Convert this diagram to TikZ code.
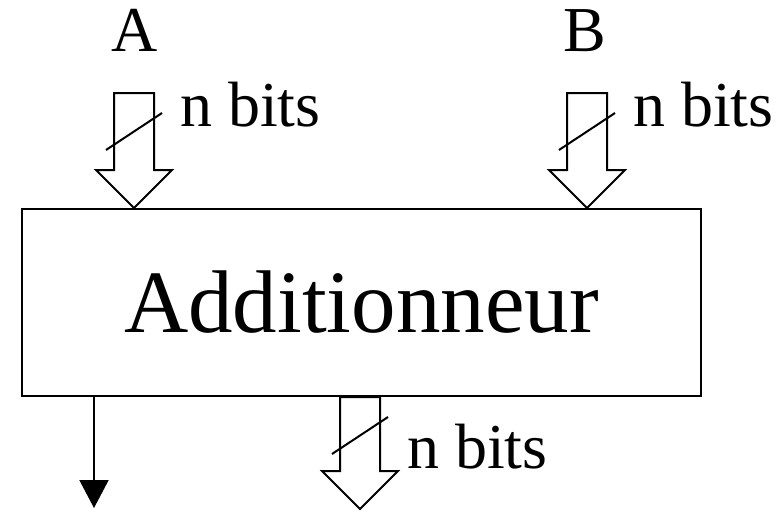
\documentclass[tikz,border=0pt]{standalone}
\usepackage{fontspec}
\setmainfont{Liberation Serif}
\usetikzlibrary{calc,arrows.meta}

\tikzset{
  bus/.pic={
    \draw (-20,0) -- (20,0) -- (20,#1-38) -- (38,#1-38) -- (0,#1) -- (-38,#1-38) -- (-20,#1-38) -- cycle;
    \draw (-28,57) -- (28,20);
    \coordinate (-side) at (20,0);
  },
  lbl/.style={inner sep=0pt, font=\fontsize{64}{70}\selectfont},
}

\begin{document}
\begin{tikzpicture}[x=1pt,y=-1pt,line width=2pt,line join=miter]
  \useasboundingbox (0,0) rectangle (782,512);
  \node[draw, minimum width=679pt, minimum height=187pt, inner sep=0pt,
        font=\fontsize{89}{95}\selectfont] (adder) at (361.5,302.5) {Additionneur};

  \coordinate (a-tip) at ($(adder.north west)+(113,0)$);
  \coordinate (b-tip) at ($(adder.north west)+(566,0)$);
  \coordinate (s-top) at ($(adder.south west)+(339,0)$);
  \coordinate (cout) at (94,508);

  \pic (busa) at ($(a-tip)+(0,-115)$) {bus=115};
  \pic (busb) at ($(b-tip)+(0,-115)$) {bus=115};
  \pic (buss) at (s-top) {bus=112};

  \node[lbl, anchor=base] (ina) at ($(a-tip)+(1,-157)$) {A};
  \node[lbl, anchor=base] (inb) at ($(b-tip)+(-2,-157)$) {B};
  \node[lbl, anchor=base west] (na) at ($(busa-side)+(25,33)$) {n bits};
  \node[lbl, anchor=base west] (nb) at ($(busb-side)+(25,33)$) {n bits};
  \node[lbl, anchor=base west] (ns) at ($(buss-side)+(26,71)$) {n bits};

  \draw[-{Triangle[width=29pt,length=28pt]}] (cout |- adder.south) -- (cout);
\end{tikzpicture}
\end{document}
